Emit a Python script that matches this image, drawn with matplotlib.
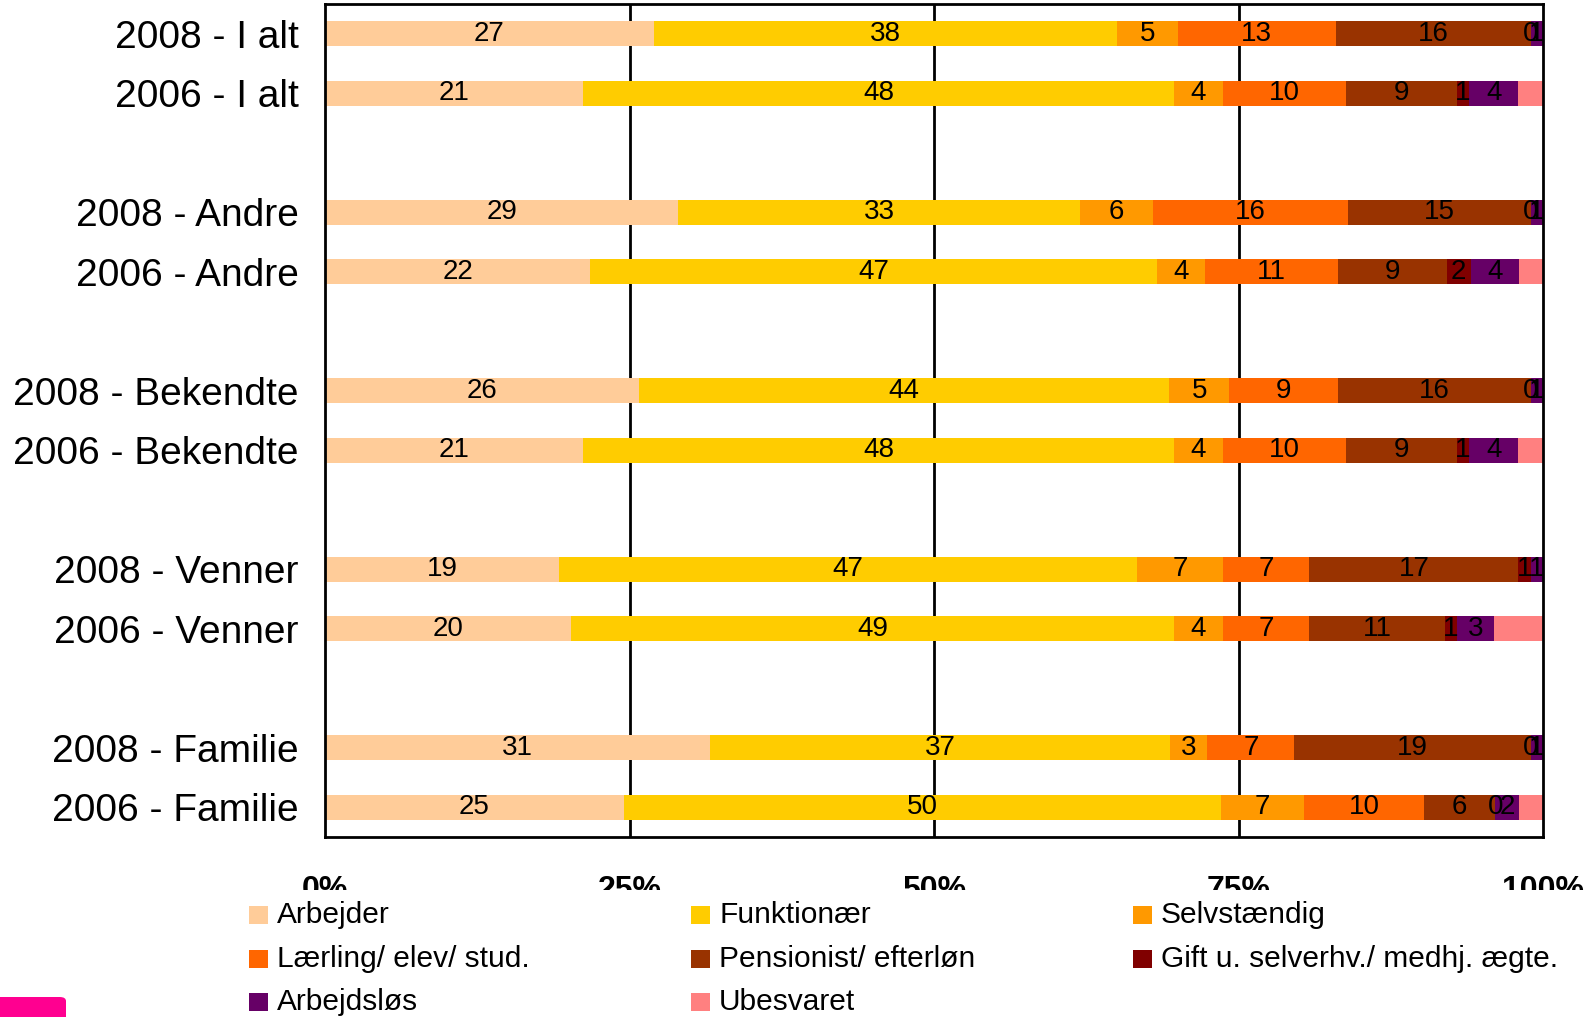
import numpy as np
import matplotlib.pyplot as plt
from matplotlib.patches import Rectangle, FancyBboxPatch

plt.rcParams['font.family'] = ['Liberation Sans', 'DejaVu Sans']

# rows top to bottom, '' = empty separator slot
rows = ["2008 - I alt", "2006 - I alt", "",
        "2008 - Andre", "2006 - Andre", "",
        "2008 - Bekendte", "2006 - Bekendte", "",
        "2008 - Venner", "2006 - Venner", "",
        "2008 - Familie", "2006 - Familie"]

series = ["Arbejder", "Funktionær", "Selvstændig", "Lærling/ elev/ stud.",
          "Pensionist/ efterløn", "Gift u. selverhv./ medhj. ægte.",
          "Arbejdsløs", "Ubesvaret"]
colors = ["#FFCC99", "#FFCC00", "#FF9900", "#FF6600",
          "#993300", "#800000", "#660066", "#FF8080"]

arbejder    = [27, 21, 29, 22, 26, 21, 19, 20, 31, 25]
funktionaer = [38, 48, 33, 47, 44, 48, 47, 49, 37, 50]
selvst      = [5, 4, 6, 4, 5, 4, 7, 4, 3, 7]
laerling    = [13, 10, 16, 11, 9, 10, 7, 7, 7, 10]
pension     = [16, 9, 15, 9, 16, 9, 17, 11, 19, 6]
gift        = [0, 1, 0, 2, 0, 1, 1, 1, 0, 0]
arbl        = [1, 4, 1, 4, 1, 4, 1, 3, 1, 2]
ubes        = [0, 2, 0, 2, 0, 2, 0, 4, 0, 2]
show_label  = [True, True, True, True, True, True, True, False]

data = np.array([arbejder, funktionaer, selvst, laerling, pension, gift, arbl, ubes], dtype=float)
pct = data / data.sum(axis=0) * 100

ypos = [i for i, r in enumerate(rows) if r != ""]

fig = plt.figure(figsize=(15.94, 10.17), dpi=100)
ax = fig.add_axes([325/1594, 1-837/1017, (1543-325)/1594, (837-4)/1017])

for x in [25, 50, 75]:
    ax.axvline(x, color='black', lw=2, zorder=0)

left = np.zeros(len(ypos))
for k in range(len(series)):
    ax.barh(ypos, pct[k], left=left, height=0.42, color=colors[k], zorder=2)
    if show_label[k]:
        for j, y in enumerate(ypos):
            ax.text(left[j] + pct[k][j]/2, y, "%d" % data[k][j], ha='center', va='center',
                    fontsize=20, color='black', zorder=3)
    left += pct[k]

ax.set_xlim(0, 100)
ax.set_ylim(len(rows) - 0.5, -0.5)
ax.set_yticks(range(len(rows)))
ax.set_yticklabels(rows, fontsize=28)
ax.set_xticks([0, 25, 50, 75, 100])
ax.set_xticklabels(["0%", "25%", "50%", "75%", "100%"], fontsize=23, fontweight='bold')
ax.tick_params(axis='y', length=0, pad=19)
ax.tick_params(axis='x', length=0, pad=27)
for s in ax.spines.values():
    s.set_linewidth(2)

# white band hides lower part of x tick labels (as in reference)
fig.patches.append(Rectangle((0, 0), 1, 1-890/1017, transform=fig.transFigure,
                             facecolor='white', edgecolor='none', zorder=1))

# legend
col_x = [249, 691, 1133]
row_y = [915, 959, 1002]
sq = 18.5
for i, name in enumerate(series):
    cx = col_x[i % 3]
    cy = row_y[i // 3]
    fig.patches.append(Rectangle((cx/1594, 1-(cy+sq/2)/1017), sq/1594, sq/1017,
                                 transform=fig.transFigure, facecolor=colors[i],
                                 edgecolor='none', zorder=2))
    fig.text((cx+28)/1594, 1-cy/1017, name, fontsize=21.5, va='center', ha='left', zorder=3)

fig.patches.append(FancyBboxPatch((-0.01, -0.01), 66/1594 + 0.01, 20/1017 + 0.01,
                                  boxstyle="round,pad=0,rounding_size=0.004",
                                  transform=fig.transFigure, facecolor='#FF0090',
                                  edgecolor='none', zorder=2))

fig.savefig("out.png", dpi=100)
